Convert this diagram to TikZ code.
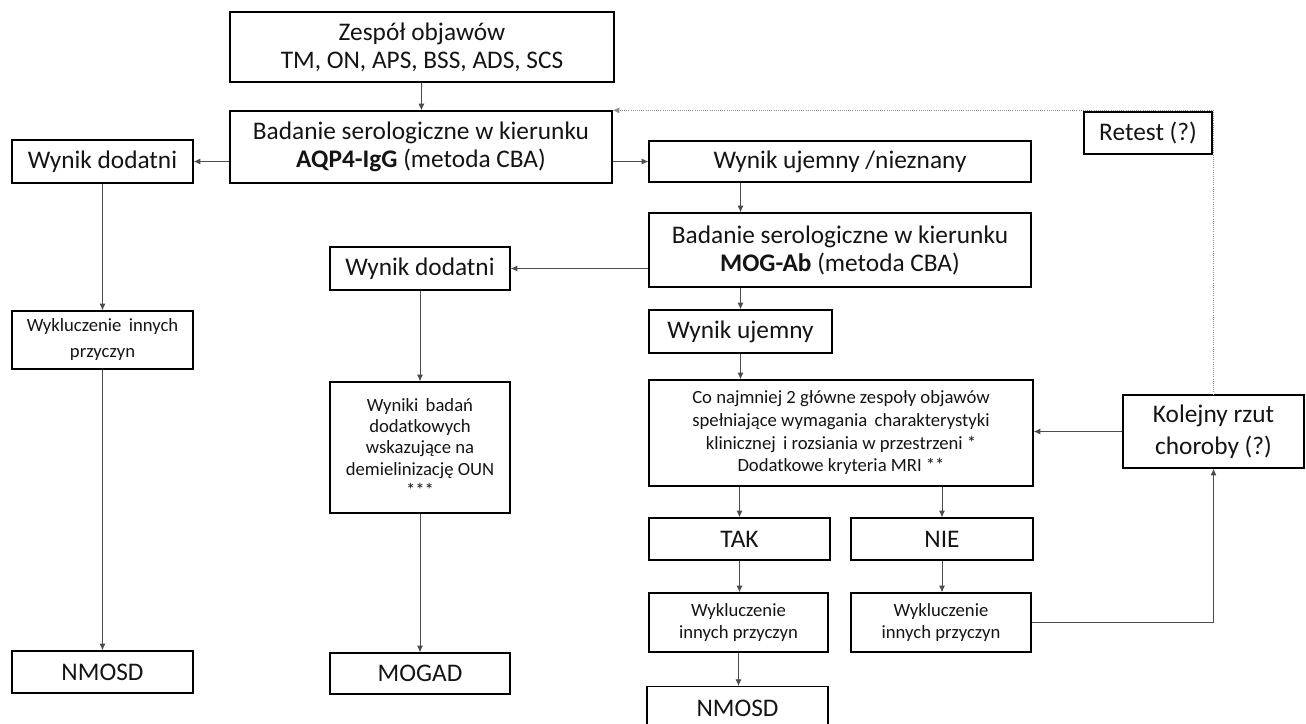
\documentclass[tikz,border=0pt]{standalone}
\usepackage{fontspec}
\setmainfont{Carlito}
\usetikzlibrary{arrows.meta,calc}

\begin{document}
\begin{tikzpicture}[x=0.75pt,y=-0.75pt]
	\tikzstyle{box}=[draw=black, line width=1pt, inner sep=0pt, align=center, text=black!92, font=\fontsize{19}{21}\selectfont];
	\tikzstyle{small}=[font=\fontsize{14}{17}\selectfont];
	\tikzstyle{arr}=[-{Latex[length=5pt,width=4.5pt]}, black!70, line width=0.6pt];
	\useasboundingbox (0,0) rectangle (1306,724);

   % top and AQP4 test
   \node[box, minimum width=288pt, minimum height=52.5pt] (zesp) at (422, 47) {Zespół objawów\\TM, ON, APS, BSS, ADS, SCS};
   \node[box, minimum width=286.5pt, minimum height=54pt] (aqp) at (421, 147) {Badanie serologiczne w kierunku\\\textbf{AQP4-IgG} (metoda CBA)};
   \node[box, minimum width=135.75pt, minimum height=32.25pt] (dod1) at (102.5, 161.5) {Wynik dodatni};
   \node[box, minimum width=286.5pt, minimum height=30.75pt] (ujn) at (840, 161.5) {Wynik ujemny /nieznany};
   \node[box, minimum width=96pt, minimum height=31.5pt] (retest) at (1148, 133) {Retest (?)};

   % left column
   \node[box, minimum width=135.75pt, minimum height=43.5pt, font=\fontsize{14}{19.5}\selectfont] (wyk1) at (102.5, 340) {Wykluczenie\, innych\\przyczyn};
   \node[box, minimum width=135.75pt, minimum height=31.5pt] (nmosd1) at (102.5, 672) {NMOSD};

   % MOG test
   \node[box, minimum width=286.5pt, minimum height=55.5pt] (mog) at (840, 250) {Badanie serologiczne w kierunku\\\textbf{MOG-Ab} (metoda CBA)};
   \node[box, minimum width=135pt, minimum height=32.25pt] (dod2) at (420, 268.5) {Wynik dodatni};
   \node[box, font=\fontsize{14}{16}\selectfont, minimum width=135pt, minimum height=98.25pt] (wynb) at (420, 447.5) {Wyniki\, badań\\dodatkowych\\wskazujące na\\demielinizację OUN\\***};
   \node[box, minimum width=135pt, minimum height=30.75pt] (mogad) at (420, 673.5) {MOGAD};

   % right column
   \node[box, minimum width=137.25pt, minimum height=32.25pt] (uj) at (740.5, 331.5) {Wynik ujemny};
   \node[box, small, minimum width=288pt, minimum height=79.5pt] (crit) at (841, 433) {Co najmniej 2 główne zespoły objawów\\spełniające wymagania\, charakterystyki\\klinicznej\, i rozsiania w przestrzeni *\\Dodatkowe kryteria MRI **};
   \node[box, minimum width=135.75pt, minimum height=54.75pt, font=\fontsize{19}{24}\selectfont] (kol) at (1213.5, 431.5) {Kolejny rzut\\choroby (?)};
   \node[box, minimum width=135.75pt, minimum height=31.5pt] (tak) at (739.5, 539) {TAK};
   \node[box, minimum width=136.5pt, minimum height=31.5pt] (nie) at (942, 539) {NIE};
   \node[box, small, minimum width=134.25pt, minimum height=44.25pt] (wyktak) at (738.5, 622.5) {Wykluczenie\\innych przyczyn};
   \node[box, small, minimum width=135pt, minimum height=44.25pt] (wyknie) at (941, 622.5) {Wykluczenie\\innych przyczyn};
   \node[box, minimum width=135.75pt, minimum height=32pt] (nmosd3) at (737.5, 708) {NMOSD};

   % connectors
   \draw[arr] (zesp) -- (aqp);
   \draw[arr] (aqp.west |- dod1) -- (dod1);
   \draw[arr] (aqp.east |- ujn) -- (ujn);
   \draw[arr] (dod1) -- (wyk1);
   \draw[arr] (wyk1) -- (nmosd1);
   \draw[arr] (ujn.south -| uj) -- (mog.north -| uj);
   \draw[arr] (mog.west |- dod2) -- (dod2);
   \draw[arr] (dod2) -- (wynb);
   \draw[arr] (wynb) -- (mogad);
   \draw[arr] (mog.south -| uj) -- (uj);
   \draw[arr] (uj) -- (crit.north -| uj);
   \draw[arr] (crit.south -| tak) -- (tak);
   \draw[arr] (crit.south -| nie) -- (nie);
   \draw[arr] (tak) -- (wyktak.north -| tak);
   \draw[arr] (wyktak) -- (nmosd3.north -| wyktak);
   \draw[arr] (nie) -- (wyknie.north -| nie);
   \draw[arr] (wyknie.east) -| (kol.south);
   \draw[arr] (kol.west) -- (crit.east |- kol.west);
   \draw[arr, densely dotted, black!45] (kol.north) |- (aqp.north east);

\end{tikzpicture}
\end{document}
